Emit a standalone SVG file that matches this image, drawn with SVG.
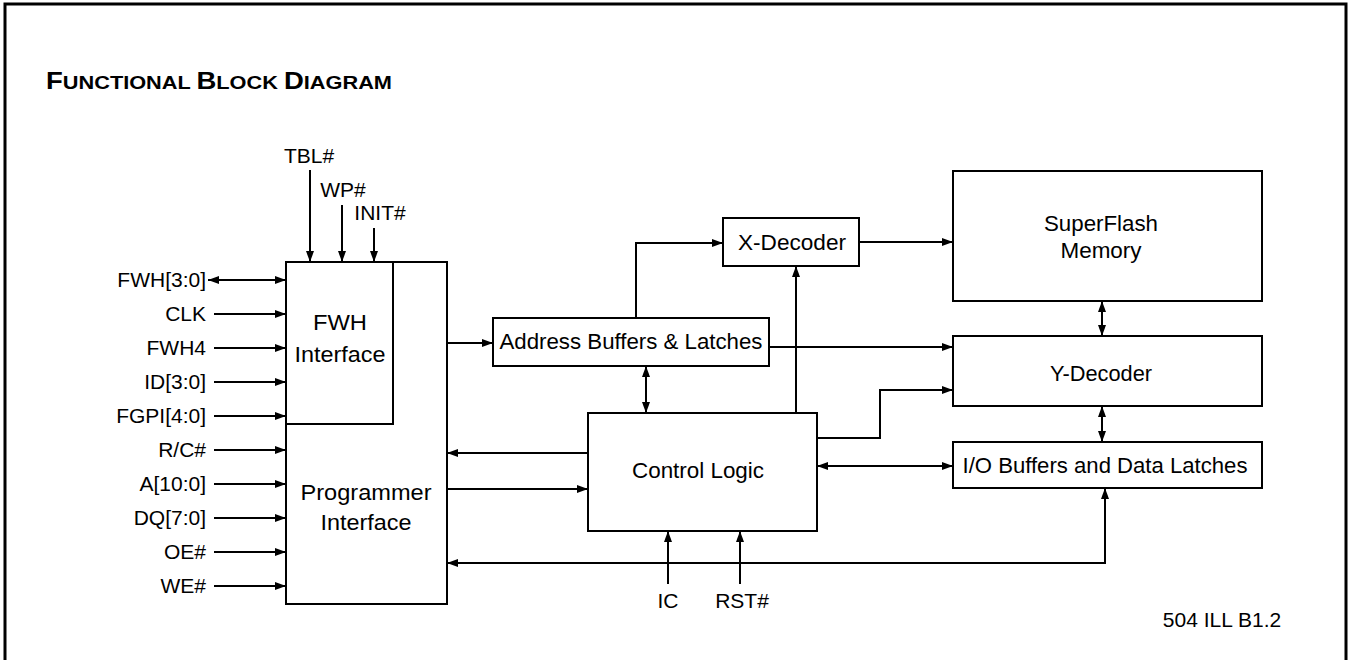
<svg xmlns="http://www.w3.org/2000/svg" width="1351" height="660" viewBox="0 0 1351 660">
<defs>
<marker id="ah" viewBox="0 0 11 8" refX="11" refY="4" markerWidth="11" markerHeight="8" markerUnits="userSpaceOnUse" orient="auto-start-reverse">
<path d="M0,0 L11,4 L0,8 z" fill="#000"/>
</marker>
<style>
.box{fill:#fff;stroke:#000;stroke-width:2}
.ln{fill:none;stroke:#000;stroke-width:2}
.a{marker-end:url(#ah)}
.b{marker-start:url(#ah);marker-end:url(#ah)}
text{font-family:"Liberation Sans",Arial,sans-serif;font-size:21px;fill:#000}
.r{text-anchor:end}
.c{text-anchor:middle}
.lb{font-size:22px}
</style>
</defs>
<rect width="1351" height="660" fill="#fff"/>
<rect x="5" y="4" width="1341" height="670" fill="none" stroke="#000" stroke-width="3"/>
<text x="46" y="89" font-weight="bold" textLength="346" lengthAdjust="spacingAndGlyphs"><tspan font-size="24">F</tspan><tspan font-size="19">UNCTIONAL </tspan><tspan font-size="24">B</tspan><tspan font-size="19">LOCK </tspan><tspan font-size="24">D</tspan><tspan font-size="19">IAGRAM</tspan></text>

<g id="connectors">
<line class="ln a" x1="310" y1="170" x2="310" y2="262"/>
<line class="ln a" x1="342" y1="205" x2="342" y2="262"/>
<line class="ln a" x1="374" y1="228" x2="374" y2="262"/>
<line class="ln b" x1="208" y1="280" x2="286" y2="280"/>
<line class="ln a" x1="214" y1="314" x2="286" y2="314"/>
<line class="ln a" x1="214" y1="348" x2="286" y2="348"/>
<line class="ln a" x1="214" y1="382" x2="286" y2="382"/>
<line class="ln a" x1="214" y1="416" x2="286" y2="416"/>
<line class="ln a" x1="214" y1="450" x2="286" y2="450"/>
<line class="ln a" x1="214" y1="484" x2="286" y2="484"/>
<line class="ln a" x1="214" y1="518" x2="286" y2="518"/>
<line class="ln a" x1="214" y1="552" x2="286" y2="552"/>
<line class="ln a" x1="214" y1="586" x2="286" y2="586"/>
<line class="ln a" x1="447" y1="343" x2="493" y2="343"/>
<polyline class="ln a" points="636,318 636,243 723,243"/>
<line class="ln a" x1="859" y1="242" x2="953" y2="242"/>
<line class="ln a" x1="769" y1="347" x2="953" y2="347"/>
<line class="ln b" x1="646" y1="366" x2="646" y2="413"/>
<line class="ln a" x1="796" y1="413" x2="796" y2="266"/>
<polyline class="ln a" points="817,438 880,438 880,390 953,390"/>
<line class="ln b" x1="817" y1="466" x2="953" y2="466"/>
<line class="ln a" x1="588" y1="453" x2="447" y2="453"/>
<line class="ln a" x1="447" y1="489" x2="588" y2="489"/>
<polyline class="ln b" points="447,563 1105,563 1105,488"/>
<line class="ln a" x1="668" y1="584" x2="668" y2="531"/>
<line class="ln a" x1="740" y1="584" x2="740" y2="531"/>
<line class="ln b" x1="1102" y1="301" x2="1102" y2="336"/>
<line class="ln b" x1="1102" y1="406" x2="1102" y2="442"/>
</g>

<g id="signals">
<text x="309" y="163" class="c">TBL#</text>
<text x="343" y="197" class="c">WP#</text>
<text x="380" y="220" class="c">INIT#</text>
<text x="206" y="287" class="r">FWH[3:0]</text>
<text x="206" y="321" class="r">CLK</text>
<text x="206" y="355" class="r">FWH4</text>
<text x="206" y="389" class="r">ID[3:0]</text>
<text x="206" y="423" class="r">FGPI[4:0]</text>
<text x="206" y="457" class="r">R/C#</text>
<text x="206" y="491" class="r">A[10:0]</text>
<text x="206" y="525" class="r">DQ[7:0]</text>
<text x="206" y="559" class="r">OE#</text>
<text x="206" y="593" class="r">WE#</text>
<text x="668" y="608" class="c">IC</text>
<text x="742" y="608" class="c">RST#</text>
</g>

<g id="programmer-interface">
<rect class="box" x="286" y="262" width="161" height="342"/>
<text x="366" y="500" class="c lb" textLength="131" lengthAdjust="spacingAndGlyphs">Programmer</text>
<text x="366" y="530" class="c lb" textLength="91" lengthAdjust="spacingAndGlyphs">Interface</text>
</g>
<g id="fwh-interface">
<polyline class="ln" points="286,424 393,424 393,262"/>
<text x="340" y="330" class="c lb" textLength="54" lengthAdjust="spacingAndGlyphs">FWH</text>
<text x="340" y="362" class="c lb" textLength="91" lengthAdjust="spacingAndGlyphs">Interface</text>
</g>
<g id="address-buffers">
<rect class="box" x="493" y="318" width="276" height="48"/>
<text x="631" y="349" class="c lb" textLength="263" lengthAdjust="spacingAndGlyphs">Address Buffers &amp; Latches</text>
</g>
<g id="x-decoder">
<rect class="box" x="723" y="218" width="136" height="48"/>
<text x="792" y="250" class="c lb" textLength="108" lengthAdjust="spacingAndGlyphs">X-Decoder</text>
</g>
<g id="superflash">
<rect class="box" x="953" y="171" width="309" height="130"/>
<text x="1101" y="231" class="c lb" textLength="114" lengthAdjust="spacingAndGlyphs">SuperFlash</text>
<text x="1101" y="258" class="c lb" textLength="81" lengthAdjust="spacingAndGlyphs">Memory</text>
</g>
<g id="y-decoder">
<rect class="box" x="953" y="336" width="309" height="70"/>
<text x="1101" y="381" class="c lb" textLength="102" lengthAdjust="spacingAndGlyphs">Y-Decoder</text>
</g>
<g id="io-buffers">
<rect class="box" x="953" y="442" width="309" height="46"/>
<text x="1105" y="473" class="c lb" textLength="285" lengthAdjust="spacingAndGlyphs">I/O Buffers and Data Latches</text>
</g>
<g id="control-logic">
<rect class="box" x="588" y="413" width="229" height="118"/>
<text x="698" y="478" class="c lb" textLength="132" lengthAdjust="spacingAndGlyphs">Control Logic</text>
</g>
<text x="1222" y="627" class="c" font-size="15">504 ILL B1.2</text>
</svg>
